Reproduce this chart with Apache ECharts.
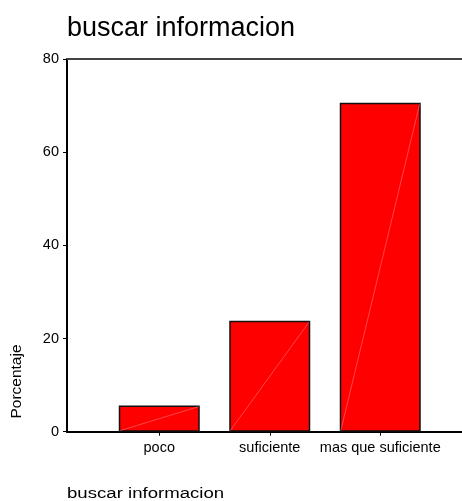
<!DOCTYPE html>
<html>
<head>
<meta charset="utf-8">
<script src="https://cdn.jsdelivr.net/npm/echarts@6/dist/echarts.min.js"></script>
<style>
html,body{margin:0;padding:0;background:#fff;}
#chart{width:462px;height:501px;}
</style>
</head>
<body>
<div id="chart"></div>
<script>
var categories = ['poco', 'suficiente', 'mas que suficiente'];
var percentValues = [5.6, 23.8, 70.6];
var yTicks = [0, 20, 40, 60, 80];
var titleText = 'buscar informacion';
var yAxisTitle = 'Porcentaje';
var xAxisTitle = 'buscar informacion';

var FONT = '"Liberation Sans", Arial, sans-serif';
var chart = echarts.init(document.getElementById('chart'), null, {renderer: 'canvas'});
var gridTop = 59, gridBottom = 501 - 431.7;

var option = {
  animation: false,
  backgroundColor: '#ffffff',
  title: {
    text: titleText,
    left: 62,
    top: 10,
    textStyle: {fontFamily: FONT, fontSize: 27, fontWeight: 'normal', color: '#000'}
  },
  grid: [
    {left: 104, right: 26.5, top: gridTop, bottom: gridBottom},
    {left: 67, right: 0, top: gridTop, bottom: gridBottom}
  ],
  xAxis: [
    {
      type: 'category', gridIndex: 0, data: categories,
      axisLine: {show: false},
      axisTick: {show: true, alignWithLabel: true, length: 4, lineStyle: {color: '#000', width: 1}},
      axisLabel: {fontFamily: FONT, fontSize: 14.5, color: '#000', margin: 9, interval: 0}
    },
    {
      type: 'value', gridIndex: 1, position: 'bottom', min: 0, max: 1,
      axisLine: {show: true, lineStyle: {color: '#000', width: 2}},
      axisTick: {show: false}, axisLabel: {show: false}, splitLine: {show: false}
    },
    {
      type: 'value', gridIndex: 1, position: 'top', min: 0, max: 1,
      axisLine: {show: true, lineStyle: {color: '#444', width: 2}},
      axisTick: {show: false}, axisLabel: {show: false}, splitLine: {show: false}
    }
  ],
  yAxis: [
    {
      type: 'value', gridIndex: 0, min: yTicks[0], max: yTicks[yTicks.length - 1], interval: yTicks[1] - yTicks[0],
      offset: 37,
      axisLine: {show: true, lineStyle: {color: '#000', width: 2}},
      axisTick: {show: true, length: 4, lineStyle: {color: '#000', width: 1}},
      axisLabel: {fontFamily: FONT, fontSize: 14.5, color: '#000', margin: 8},
      splitLine: {show: false}
    },
    {
      type: 'value', gridIndex: 1, min: 0, max: 80, show: false
    }
  ],
  graphic: [
    {
      type: 'text', x: 67, y: 493.5, scaleX: 1.2,
      style: {text: xAxisTitle, font: '15.5px ' + FONT, fill: '#000', verticalAlign: 'middle'}
    },
    {
      type: 'text', x: 16.5, y: 381.5, rotation: Math.PI / 2,
      style: {text: yAxisTitle, font: '15.5px ' + FONT, fill: '#000', align: 'center', verticalAlign: 'middle'}
    }
  ],
  series: [
    {
      type: 'bar', xAxisIndex: 0, yAxisIndex: 0, data: percentValues, barWidth: 81,
      itemStyle: {color: '#ff0000', borderColor: '#111', borderWidth: 1.5}
    },
    {
      type: 'custom', xAxisIndex: 0, yAxisIndex: 0, silent: true, z: 3,
      data: percentValues.map(function (v, i) { return [i, v]; }),
      renderItem: function (params, api) {
        var p0 = api.coord([api.value(0), 0]);
        var p1 = api.coord([api.value(0), api.value(1)]);
        var half = 81 / 2 - 1;
        return {
          type: 'line',
          shape: {x1: p0[0] - half, y1: p0[1] - 1, x2: p1[0] + half, y2: p1[1] + 1},
          style: {stroke: 'rgba(255,235,235,0.6)', lineWidth: 0.5}
        };
      },
      encode: {x: 0, y: 1}
    }
  ]
};
chart.setOption(option);
</script>
</body>
</html>
